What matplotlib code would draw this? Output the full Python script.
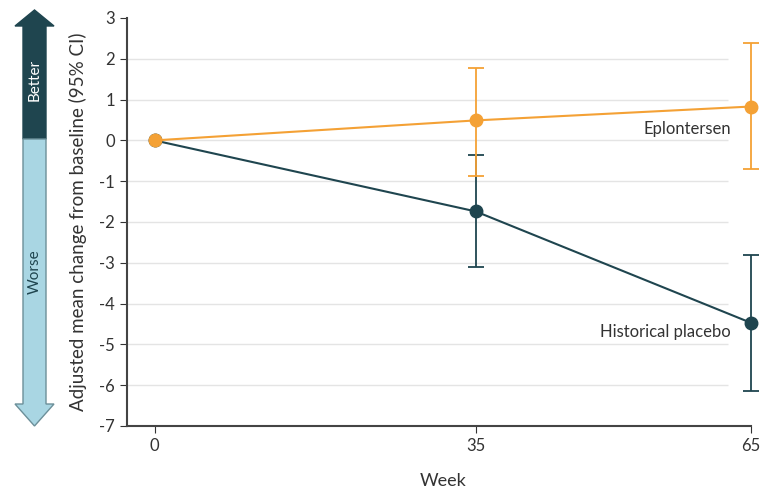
import matplotlib.pyplot as plt
from matplotlib.patches import Polygon

# --- données ---
weeks = [0, 35, 65]
eplo_mean = [0.0, 0.49, 0.83]
eplo_low = [0.0, -0.87, -0.71]
eplo_high = [0.0, 1.77, 2.38]
plac_mean = [0.0, -1.74, -4.47]
plac_low = [0.0, -3.10, -6.15]
plac_high = [0.0, -0.36, -2.80]
yticks = [3, 2, 1, 0, -1, -2, -3, -4, -5, -6, -7]

orange = "#f4a135"
dark = "#1f454f"
light = "#a9d6e3"

plt.rcParams["font.family"] = ["Lato", "DejaVu Sans"]
plt.rcParams["axes.unicode_minus"] = False

W, H = 774, 492
fig = plt.figure(figsize=(W / 100, H / 100), dpi=100)
ax = fig.add_axes([127 / W, (H - 426) / H, 633 / W, 408 / H])

# grille horizontale
ax.hlines([y for y in yticks if -7 < y < 3], -3, 62.5, color="#e4e4e4", lw=1, zorder=0)

def err(mean, low, high):
    return [[m - l for m, l in zip(mean, low)], [h - m for m, h in zip(mean, high)]]

ax.errorbar(weeks[1:], plac_mean[1:], yerr=[e[1:] for e in err(plac_mean, plac_low, plac_high)],
            fmt="none", ecolor=dark, elinewidth=1.3, capsize=6, capthick=1.3, zorder=2)
ax.errorbar(weeks[1:], eplo_mean[1:], yerr=[e[1:] for e in err(eplo_mean, eplo_low, eplo_high)],
            fmt="none", ecolor=orange, elinewidth=1.3, capsize=6, capthick=1.3, zorder=2)
ax.plot(weeks, plac_mean, color=dark, lw=1.5, marker="o", ms=9, zorder=3)
ax.plot(weeks, eplo_mean, color=orange, lw=1.5, marker="o", ms=9, zorder=4)

ax.text(62.8, 0.28, "Eplontersen", ha="right", va="center", fontsize=12, color="#333333",
        bbox=dict(facecolor="white", edgecolor="none", pad=1))
ax.text(62.8, -4.7, "Historical placebo", ha="right", va="center", fontsize=12, color="#333333",
        bbox=dict(facecolor="white", edgecolor="none", pad=1))

ax.set_xlim(-3, 66)
ax.set_ylim(-7, 3)
ax.set_xticks(weeks)
ax.set_yticks(yticks)
ax.tick_params(labelsize=12, colors="#333333", length=5)
ax.spines["top"].set_visible(False)
ax.spines["right"].set_visible(False)
ax.spines["bottom"].set_bounds(-3, 65)
for s in ["left", "bottom"]:
    ax.spines[s].set_color("#444444")
    ax.spines[s].set_linewidth(1.5)
ax.set_xlabel("Week", fontsize=13, color="#333333", labelpad=14)
ax.set_ylabel("Adjusted mean change from baseline (95% CI)", fontsize=13.5, color="#333333", labelpad=9)

# flèche Better / Worse
axa = fig.add_axes([0, 0, 1, 1], zorder=-1)
axa.set_xlim(0, W)
axa.set_ylim(H, 0)
axa.axis("off")
split = 139
top = [(34.5, 10), (54, 26), (46, 26), (46, split), (23, split), (23, 26), (15, 26)]
bottom = [(23, split), (46, split), (46, 404), (54, 404), (34.5, 426), (15, 404), (23, 404)]
axa.add_patch(Polygon(top, closed=True, facecolor=dark, edgecolor=dark, lw=1))
axa.add_patch(Polygon(bottom, closed=True, facecolor=light, edgecolor="#6c8f99", lw=1))
axa.text(34.5, 80, "Better", rotation=90, ha="center", va="center", color="white", fontsize=11)
axa.text(34.5, 272, "Worse", rotation=90, ha="center", va="center", color=dark, fontsize=11)

fig.savefig("out.png", dpi=100)
